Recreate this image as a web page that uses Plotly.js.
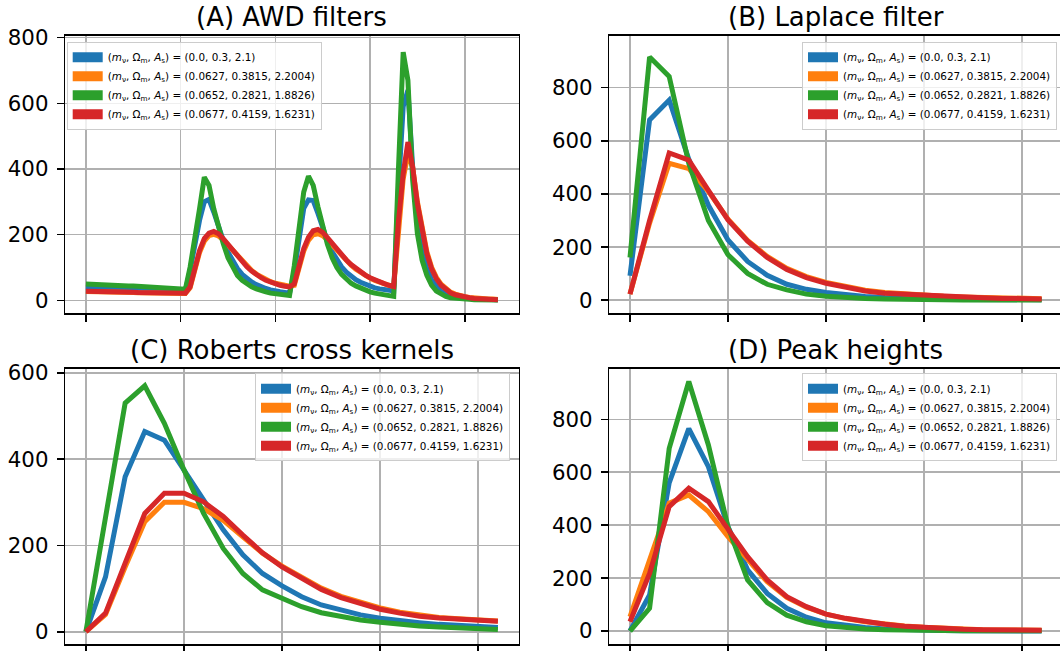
<!DOCTYPE html>
<html>
<head>
<meta charset="utf-8">
<script src="https://cdn.plot.ly/plotly-3.0.1.min.js"></script>
<style>
html, body { margin: 0; padding: 0; overflow: hidden; background: #fff; }
#chart { width: 1070px; height: 651px; }
</style>
</head>
<body>
<div id="chart"></div>
<script>
// ---------------- data ----------------
const seriesLabels = [
  "(<i>m</i><sub>ν</sub>, Ω<sub>m</sub>, <i>A</i><sub>s</sub>) = (0.0, 0.3, 2.1)",
  "(<i>m</i><sub>ν</sub>, Ω<sub>m</sub>, <i>A</i><sub>s</sub>) = (0.0627, 0.3815, 2.2004)",
  "(<i>m</i><sub>ν</sub>, Ω<sub>m</sub>, <i>A</i><sub>s</sub>) = (0.0652, 0.2821, 1.8826)",
  "(<i>m</i><sub>ν</sub>, Ω<sub>m</sub>, <i>A</i><sub>s</sub>) = (0.0677, 0.4159, 1.6231)"
];
const seriesColors = ["#1f77b4", "#ff7f0e", "#2ca02c", "#d62728"];
const panelTitles = ["(A) AWD filters", "(B) Laplace filter", "(C) Roberts cross kernels", "(D) Peak heights"];

// bin index for the 4 concatenated AWD filters (4 x 22 bins)
const binsAWD = [0,1,2,3,4,5,6,7,8,9,10,11,12,13,14,15,16,17,18,19,20,21,
  22,23,24,25,26,27,28,29,30,31,32,33,34,35,36,37,38,39,40,41,42,43,
  44,45,46,47,48,49,50,51,52,53,54,55,56,57,58,59,60,61,62,63,64,65,
  66,67,68,69,70,71,72,73,74,75,76,77,78,79,80,81,82,83,84,85,86,87];
// bin index for the other statistics (22 bins)
const bins = [0,1,2,3,4,5,6,7,8,9,10,11,12,13,14,15,16,17,18,19,20,21];

// (A) AWD filters
const awdBlue = [41,40,40,39,39,38,38,37,37,36,35,35,34,34,33,33,32,31,31,30,29,28,
  91,168,244,300,307,269,223,183,147,120,97,79,66,56,48,41,36,32,28,26,24,22,
  88,195,280,306,304,265,220,180,148,122,102,86,73,63,55,48,43,38,35,32,30,29,
  340,590,640,406,244,152,96,63,43,28,20,14,10,8,6,5,4,3,3,2,2,2];
const awdOrange = [27,27,26,26,26,25,25,25,24,24,24,23,23,23,22,22,22,22,21,21,21,21,
  38,96,146,180,197,201,196,184,168,151,134,118,104,91,80,71,63,57,52,48,45,43,
  46,102,150,183,200,203,197,184,168,151,135,120,107,95,85,76,68,61,55,50,46,42,
  230,370,445,405,300,214,148,101,70,49,35,25,19,14,11,9,7,6,5,4,4,3];
const awdGreen = [50,49,49,48,48,47,46,46,45,44,44,43,42,42,41,40,39,38,37,36,35,34,
  101,183,279,375,350,279,223,173,130,100,76,61,49,41,35,29,26,22,20,18,16,15,
  105,225,330,378,350,285,222,171,130,100,79,64,52,44,37,31,26,22,19,16,14,12,
  400,756,670,366,203,122,76,46,28,18,12,8,6,4,3,3,2,2,2,1,1,1];
const awdRed = [28,28,27,27,27,26,26,26,25,25,25,24,24,24,23,23,23,23,22,22,22,22,
  41,102,152,188,205,210,203,188,171,152,134,117,102,89,78,69,61,55,50,46,43,41,
  50,110,158,192,212,216,207,191,173,155,138,123,109,97,86,77,69,62,56,51,46,42,
  240,386,482,406,294,208,142,96,66,46,32,23,17,13,10,8,6,5,4,3,3,2];

// (B) Laplace filter
const lapBlue   = [92,678,753,530,357,227,146,94,60,41,29,20,14,10,7,5,4,3,3,2,2,2];
const lapOrange = [23,290,515,495,410,305,225,165,120,89,67,51,38,29,23,18,15,12,10,8,7,6];
const lapGreen  = [161,915,842,515,300,171,101,60,39,23,15,10,7,5,3,2,2,1,1,1,1,1];
const lapRed    = [23,300,554,527,413,302,222,161,116,85,64,48,35,26,22,17,14,11,9,7,6,5];

// (C) Roberts cross kernels
const robBlue   = [0,127,359,464,444,375,305,236,178,135,106,81,62,49,39,31,25,21,17,14,12,10];
const robOrange = [0,40,150,255,300,300,285,258,220,182,152,126,101,82,67,55,45,38,33,30,27,25];
const robGreen  = [0,265,530,570,483,375,274,193,135,97,76,58,44,35,27,22,17,13,11,9,7,5];
const robRed    = [0,43,159,274,321,321,301,267,224,183,150,124,98,79,64,52,43,36,32,29,26,24];

// (D) Peak heights
const pkBlue   = [0,136,560,765,621,394,231,142,86,52,31,20,13,8,5,3,2,1,1,1,0,0];
const pkOrange = [54,270,483,514,451,357,268,186,127,90,64,47,35,26,19,14,10,7,5,4,3,3];
const pkGreen  = [0,86,690,943,703,394,193,107,60,35,20,12,8,5,3,2,2,1,1,1,1,1];
const pkRed    = [35,218,470,540,489,382,281,193,130,92,64,48,35,26,18,13,10,7,5,4,3,3];

// --------------- build ---------------
const W = 1070, H = 651;
const panels = [
  {x: binsAWD, ys: [awdBlue, awdOrange, awdGreen, awdRed], xa: 'x',  ya: 'y',  leg: 'legend'},
  {x: bins,    ys: [lapBlue, lapOrange, lapGreen, lapRed], xa: 'x2', ya: 'y2', leg: 'legend2'},
  {x: bins,    ys: [robBlue, robOrange, robGreen, robRed], xa: 'x3', ya: 'y3', leg: 'legend3'},
  {x: bins,    ys: [pkBlue, pkOrange, pkGreen, pkRed],     xa: 'x4', ya: 'y4', leg: 'legend4'}
];

const traces = [];
panels.forEach(p => {
  p.ys.forEach((y, k) => {
    traces.push({
      type: 'scatter', mode: 'lines', x: p.x, y: y,
      xaxis: p.xa, yaxis: p.ya,
      line: {color: seriesColors[k], width: 5},
      showlegend: false, hoverinfo: 'skip'
    });
  });
  // legend handles (thick patches like in the original legend)
  p.ys.forEach((y, k) => {
    traces.push({
      type: 'scatter', mode: 'lines', x: [null], y: [null],
      xaxis: p.xa, yaxis: p.ya,
      line: {color: seriesColors[k], width: 11},
      name: seriesLabels[k], legend: p.leg, showlegend: true
    });
  });
});

const px = v => v / W;
const py = v => 1 - v / H;
const colA = [px(65.3), px(518.5)];
const colB = [px(609.4), px(1062.2)];
const row1 = [py(313), py(36)];
const row2 = [py(644), py(368.5)];

const gridCol = '#b0b0b0';
function xax(domain, range, dtick, anchor) {
  return {domain: domain, range: range, dtick: dtick, tick0: 0, anchor: anchor,
    showticklabels: false, ticks: 'outside', ticklen: 7, tickwidth: 1.6, tickcolor: '#000',
    showgrid: true, gridcolor: gridCol, gridwidth: 1.6, zeroline: false,
    showline: true, linecolor: '#000', linewidth: 1.6, mirror: true, fixedrange: true};
}
function yax(domain, range, anchor) {
  return {domain: domain, range: range, dtick: 200, tick0: 0, anchor: anchor,
    ticks: 'outside', ticklen: 7, tickwidth: 1.6, tickcolor: '#000',
    ticklabelstandoff: 4,
    tickfont: {size: 21.3, color: '#000', family: 'DejaVu Sans'},
    showgrid: true, gridcolor: gridCol, gridwidth: 1.6, zeroline: false,
    showline: true, linecolor: '#000', linewidth: 1.6, mirror: true, fixedrange: true};
}
function leg(x, y, xanchor) {
  return {x: x, y: y, xanchor: xanchor, yanchor: 'top',
    bgcolor: 'rgba(255,255,255,0.8)', bordercolor: '#cccccc', borderwidth: 1,
    font: {size: 10.4, color: '#000', family: 'DejaVu Sans'}, tracegroupgap: 0};
}
const titleDomains = [[colA, row1], [colB, row1], [colA, row2], [colB, row2]];
const annotations = panelTitles.map((t, i) => ({
  text: t, xref: 'paper', yref: 'paper',
  x: (titleDomains[i][0][0] + titleDomains[i][0][1]) / 2,
  y: titleDomains[i][1][1], xanchor: 'center', yanchor: 'bottom', yshift: 3,
  showarrow: false, borderpad: 0,
  font: {size: 26, color: '#000', family: 'DejaVu Sans'}
}));

const layout = {
  width: W, height: H, margin: {l: 0, r: 0, t: 0, b: 0},
  paper_bgcolor: '#fff', plot_bgcolor: '#fff',
  font: {family: 'DejaVu Sans', color: '#000'},
  showlegend: true,
  xaxis:  xax(colA, [-4.35, 91.35], 20, 'y'),
  yaxis:  yax(row1, [-38.5, 805], 'x'),
  xaxis2: xax(colB, [-1.05, 22.05], 5, 'y2'),
  yaxis2: yax(row1, [-48, 994], 'x2'),
  xaxis3: xax(colA, [-1.05, 22.05], 5, 'y3'),
  yaxis3: yax(row2, [-28.5, 610], 'x3'),
  xaxis4: xax(colB, [-1.05, 22.05], 5, 'y4'),
  yaxis4: yax(row2, [-49, 992], 'x4'),
  legend:  leg(px(66.7), py(41.7), 'left'),
  legend2: leg(px(1057), py(41.7), 'right'),
  legend3: leg(px(510), py(373.3), 'right'),
  legend4: leg(px(1057), py(373.3), 'right'),
  annotations: annotations
};

Plotly.newPlot('chart', traces, layout, {staticPlot: true, displayModeBar: false});
</script>
</body>
</html>
